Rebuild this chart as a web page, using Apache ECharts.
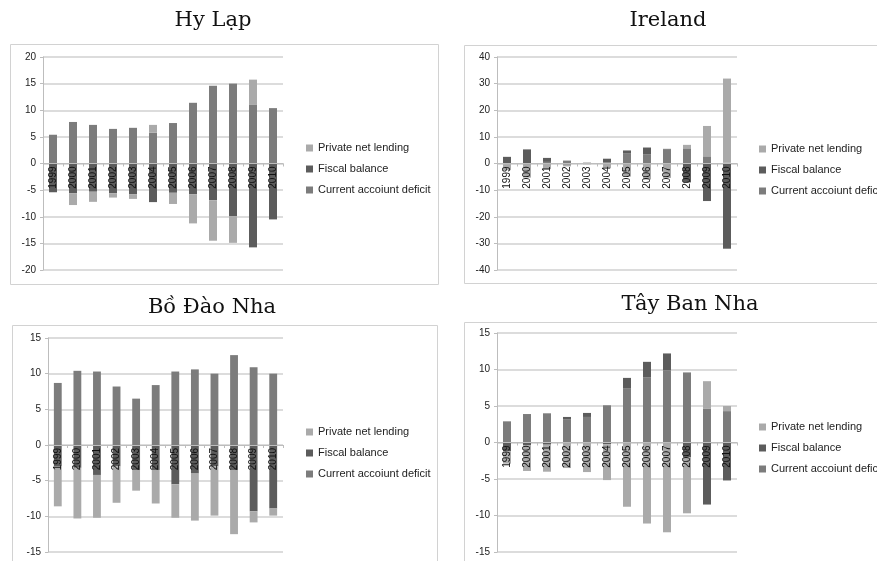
<!DOCTYPE html>
<html>
<head>
<meta charset="utf-8">
<script src="https://cdn.jsdelivr.net/npm/echarts@6/dist/echarts.min.js"></script>
<style>
	html, body { margin: 0; padding: 0; background: #ffffff; }
	#main { width: 877px; height: 561px; }
</style>
</head>
<body>
<div id="main"></div>
<script>
/**
 * Cân đối khu vực: Hy Lạp, Ireland, Bồ Đào Nha, Tây Ban Nha
 * */

// năm (trục hoành)
var years = ['1999', '2000', '2001', '2002', '2003', '2004', '2005', '2006', '2007', '2008', '2009', '2010'];

// tên chuỗi (thứ tự chú giải)
var seriesNames = ['Private net lending', 'Fiscal balance', 'Current accoiunt deficit'];

// Hy Lạp
var grcCA = [5.4, 7.8, 7.25, 6.5, 6.7, 5.8, 7.6, 11.4, 14.6, 15.0, 11.1, 10.4];
var grcFiscal = [-5.4, -5.6, -5.3, -5.6, -5.75, -7.25, -5.5, -5.8, -6.9, -9.9, -15.75, -10.5];
var grcPrivate = [0, -2.2, -1.9, -0.8, -0.9, 1.45, -2.1, -5.45, -7.6, -5.0, 4.65, 0];

// Ireland
var irlCA = [-0.3, -0.4, 0.6, 1.1, 0, 0.4, 3.7, 3.5, 5.4, 5.7, 2.7, 0.3];
var irlFiscal = [2.5, 5.3, 1.5, -0.4, 0.3, 1.4, 1.2, 2.5, 0.1, -7.1, -14.1, -32.0];
var irlPrivate = [-2.2, -4.9, -2.1, -0.7, -0.3, -1.8, -4.9, -6.0, -5.4, 1.3, 11.4, 31.6];

// Bồ Đào Nha
var prtCA = [8.7, 10.4, 10.3, 8.2, 6.5, 8.4, 10.3, 10.6, 10.0, 12.6, 10.9, 10.0];
var prtFiscal = [-3.0, -3.2, -4.2, -3.0, -3.5, -3.5, -5.5, -4.0, -3.0, -3.5, -9.3, -8.9];
var prtPrivate = [-5.6, -7.1, -6.0, -5.1, -2.9, -4.7, -4.7, -6.6, -6.9, -9.0, -1.55, -1.0];

// Tây Ban Nha
var espCA = [2.9, 3.9, 4.0, 3.2, 3.5, 5.1, 7.45, 8.95, 9.9, 9.6, 4.6, 4.3];
var espFiscal = [-1.2, -0.35, -0.3, 0.3, 0.55, -0.25, 1.4, 2.1, 2.3, -2.0, -8.5, -5.2];
var espPrivate = [-1.7, -3.55, -3.7, -3.5, -4.05, -4.9, -8.8, -11.1, -12.3, -7.7, 3.8, 0.7];

// màu
var colors = {
	priv: '#aaaaaa',
	fiscal: '#5c5c5c',
	ca: '#7c7c7c'
};

// khung từng biểu đồ
var panels = [
	{ title: 'Hy Lạp', tx: 208, ty: 5, box: [10, 44, 428, 240], grid: [43, 57, 240, 213], legend: [301, 137], y: [-20, 20, 5], ca: grcCA, fiscal: grcFiscal, priv: grcPrivate },
	{ title: 'Ireland', tx: 663, ty: 5, box: [464, 45, 420, 238], grid: [497, 57, 240, 213], legend: [754, 138], y: [-40, 40, 10], ca: irlCA, fiscal: irlFiscal, priv: irlPrivate },
	{ title: 'Bồ Đào Nha', tx: 207, ty: 292, box: [12, 325, 425, 250], grid: [48, 338, 235, 214], legend: [301, 421], y: [-15, 15, 5], ca: prtCA, fiscal: prtFiscal, priv: prtPrivate },
	{ title: 'Tây Ban Nha', tx: 685, ty: 289, box: [464, 322, 420, 250], grid: [497, 333, 240, 219], legend: [754, 416], y: [-15, 15, 5], ca: espCA, fiscal: espFiscal, priv: espPrivate }
];

var option = {
	backgroundColor: '#ffffff',
	animation: false,
	title: [],
	grid: [],
	xAxis: [],
	yAxis: [],
	legend: [],
	series: [],
	graphic: []
};

panels.forEach(function (p, i) {
	option.title.push({
		text: p.title,
		left: p.tx,
		top: p.ty,
		textAlign: 'center',
		textStyle: { fontFamily: 'DejaVu Serif', fontSize: 21, fontWeight: 'normal', color: '#111111' }
	});
	option.graphic.push({
		type: 'rect',
		shape: { x: p.box[0] + 0.5, y: p.box[1] + 0.5, width: p.box[2], height: p.box[3] },
		style: { fill: 'none', stroke: '#d2d2d2', lineWidth: 1 },
		silent: true
	});
	option.grid.push({ left: p.grid[0], top: p.grid[1], width: p.grid[2], height: p.grid[3] });
	// trục hoành đặt tại 0
	var zeroOffset = -p.grid[3] * (0 - p.y[0]) / (p.y[1] - p.y[0]);
	option.xAxis.push({
		type: 'category',
		gridIndex: i,
		data: years,
		position: 'bottom',
		offset: zeroOffset,
		z: 10,
		axisLine: { onZero: false, lineStyle: { color: '#bdbdbd', width: 1 } },
		axisTick: { show: true, length: 3, lineStyle: { color: '#bdbdbd' } },
		axisLabel: { rotate: 90, margin: 3, color: '#111111', fontSize: 10, fontFamily: 'Liberation Sans' },
		splitLine: { show: false }
	});
	option.yAxis.push({
		type: 'value',
		gridIndex: i,
		min: p.y[0],
		max: p.y[1],
		interval: p.y[2],
		axisLine: { show: true, lineStyle: { color: '#bdbdbd' } },
		axisTick: { show: true, length: 3, lineStyle: { color: '#bdbdbd' } },
		axisLabel: { color: '#222222', fontSize: 10, fontFamily: 'Liberation Sans', margin: 7 },
		splitLine: { lineStyle: { color: '#d0d0d0', width: 1.5 } }
	});
	option.legend.push({
		orient: 'vertical',
		left: p.legend[0],
		top: p.legend[1],
		icon: 'rect',
		itemWidth: 7,
		itemHeight: 7,
		itemGap: 9,
		selectedMode: false,
		data: seriesNames,
		textStyle: { fontSize: 11, fontFamily: 'Liberation Sans', color: '#222222', lineHeight: 12 }
	});
	// thứ tự chồng: tài khoản vãng lai, ngân sách, tư nhân
	var stack = 'panel' + i;
	option.series.push({
		name: seriesNames[2], type: 'bar', stack: stack, xAxisIndex: i, yAxisIndex: i,
		barWidth: '40%', data: p.ca, itemStyle: { color: colors.ca }
	});
	option.series.push({
		name: seriesNames[1], type: 'bar', stack: stack, xAxisIndex: i, yAxisIndex: i,
		barWidth: '40%', data: p.fiscal, itemStyle: { color: colors.fiscal }
	});
	option.series.push({
		name: seriesNames[0], type: 'bar', stack: stack, xAxisIndex: i, yAxisIndex: i,
		barWidth: '40%', data: p.priv, itemStyle: { color: colors.priv }
	});
});

var myChart = echarts.init(document.getElementById('main'));
myChart.setOption(option);
</script>
</body>
</html>
